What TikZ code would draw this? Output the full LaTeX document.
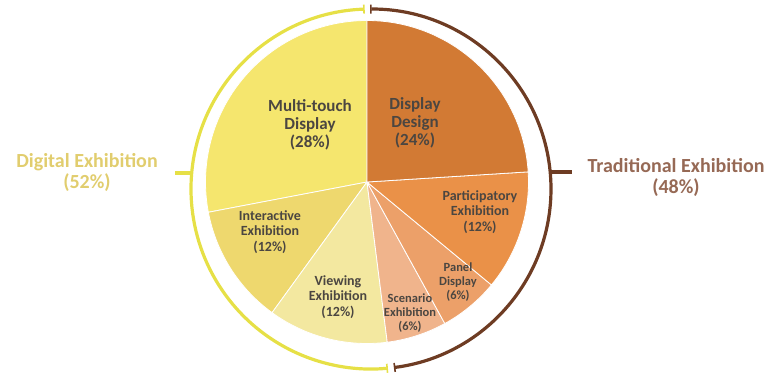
\documentclass[tikz,border=0pt]{standalone}
\usepackage{fontspec}
\setmainfont{Carlito}
\usetikzlibrary{arrows.meta}

\definecolor{multitouchc}{HTML}{F5E66E}
\definecolor{interactivec}{HTML}{EED86E}
\definecolor{viewingc}{HTML}{F3E8A0}
\definecolor{scenarioc}{HTML}{F0B48C}
\definecolor{panelc}{HTML}{ECA069}
\definecolor{participatoryc}{HTML}{EA9148}
\definecolor{designc}{HTML}{D27A34}
\definecolor{digitalc}{HTML}{E6E046}
\definecolor{traditionalc}{HTML}{6E3C23}
\definecolor{digitaltext}{HTML}{E1CD6E}
\definecolor{traditionaltext}{HTML}{966955}
\definecolor{slicetext}{HTML}{4B4641}

\tikzset{
  slice/.style={draw=white,line width=0.8pt},
  slicelabel/.style={align=center,text=slicetext,font=\bfseries\fontsize{14}{15.5}\selectfont,inner sep=0pt},
  biglabel/.style={slicelabel,font=\bfseries\fontsize{17}{18}\selectfont},
  smalllabel/.style={slicelabel,font=\bfseries\fontsize{12.5}{14}\selectfont},
  grouplabel/.style={align=center,font=\bfseries\fontsize{20}{21}\selectfont,inner sep=0pt},
  digline/.style={draw=digitalc,line width=3.2pt},
  tradline/.style={draw=traditionalc,line width=3.2pt}
}

\begin{document}
\begin{tikzpicture}[x=1pt,y=1pt]
\useasboundingbox (-367,-191) rectangle (404,182);

% pie slices
\filldraw[slice,fill=multitouchc] (0,0) -- (90:161.5) arc[start angle=90,end angle=190.8,radius=161.5] -- cycle;
\filldraw[slice,fill=interactivec] (0,0) -- (190.8:161.5) arc[start angle=190.8,end angle=234,radius=161.5] -- cycle;
\filldraw[slice,fill=viewingc] (0,0) -- (234:161.5) arc[start angle=234,end angle=277.2,radius=161.5] -- cycle;
\filldraw[slice,fill=scenarioc] (0,0) -- (-82.8:161.5) arc[start angle=-82.8,end angle=-61.2,radius=161.5] -- cycle;
\filldraw[slice,fill=panelc] (0,0) -- (-61.2:161.5) arc[start angle=-61.2,end angle=-39.6,radius=161.5] -- cycle;
\filldraw[slice,fill=participatoryc] (0,0) -- (-39.6:161.5) arc[start angle=-39.6,end angle=3.6,radius=161.5] -- cycle;
\filldraw[slice,fill=designc] (0,0) -- (3.6:161.5) arc[start angle=3.6,end angle=90,radius=161.5] -- cycle;

\node[biglabel] (multitouch) at (-57,57) {Multi-touch\\Display\\(28\%)};
\node[biglabel] (design) at (48,59) {Display\\Design\\(24\%)};
\node[slicelabel] (participatory) at (113,-30) {Participatory\\Exhibition\\(12\%)};
\node[smalllabel] (panel) at (91,-100) {Panel\\Display\\(6\%)};
\node[smalllabel] (scenario) at (43,-131) {Scenario\\Exhibition\\(6\%)};
\node[slicelabel] (viewing) at (-29,-115) {Viewing\\Exhibition\\(12\%)};
\node[slicelabel] (interactive) at (-97,-50) {Interactive\\Exhibition\\(12\%)};

% outer brackets
\draw[digline,{Bar[width=9pt,line width=1.6pt]}-{Bar[width=9pt,line width=1.6pt]}] (4,-7) ++(92:180) arc[start angle=92,end angle=275.4,radius=180];
\draw[tradline,{Bar[width=9pt,line width=1.6pt]}-{Bar[width=9pt,line width=1.6pt]}] (4,-7) ++(90.3:180) arc[start angle=90.3,end angle=-82.7,radius=180];

\node[grouplabel,text=digitaltext] (digital) at (-280,9.5) {Digital Exhibition\\(52\%)};
\node[grouplabel,text=traditionaltext] (traditional) at (309,5) {Traditional Exhibition\\(48\%)};

\coordinate (digtick) at (-175.3,9);
\coordinate (digend) at (-192,9);
\coordinate (tradtick) at (183.3,10);
\coordinate (tradend) at (205,10);
\draw[digline] (digtick) -- (digend);
\draw[tradline] (tradtick) -- (tradend);
\end{tikzpicture}
\end{document}
